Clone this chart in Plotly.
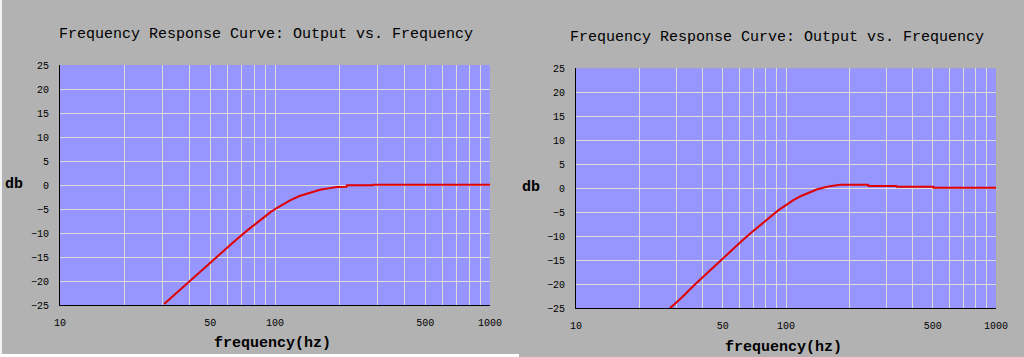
import plotly.graph_objects as go

# ---- data ----
freq_left = [30.5, 34, 38.8, 44, 49.9, 57, 65.2, 74.6, 81, 88.3, 95, 101.9, 109, 117.5,
             130, 145.5, 162, 180, 194, 215, 216, 285, 287, 1000]
db_left = [-24.8, -22.9, -20.6, -18.4, -16.2, -13.9, -11.6, -9.4, -8.1, -6.8, -5.7, -4.8,
           -4.0, -3.2, -2.3, -1.55, -1.0, -0.65, -0.4, -0.35, -0.07, -0.07, 0.06, 0.06]

freq_right = [28, 32, 36.5, 42.5, 49, 55, 61.5, 68, 76, 84, 91.8, 100, 108, 118, 130,
              140, 150, 162, 181, 246, 247, 336, 337, 503, 505, 1000]
db_right = [-25.0, -22.7, -20.2, -17.5, -14.9, -12.9, -11.0, -9.3, -7.5, -5.9, -4.6, -3.5,
            -2.5, -1.6, -0.75, -0.25, 0.1, 0.45, 0.75, 0.75, 0.5, 0.5, 0.3, 0.3, 0.1, 0.1]

grid_freqs = [10, 20, 30, 40, 50, 60, 70, 80, 90,
              100, 200, 300, 400, 500, 600, 700, 800, 900, 1000]
freq_labels = ["10", "", "", "", "50", "", "", "", "",
               "100", "", "", "", "500", "", "", "", "", "1000"]
db_ticks = [-25, -20, -15, -10, -5, 0, 5, 10, 15, 20, 25]

title_text = "Frequency Response Curve: Output vs. Frequency"
x_title = "<b>frequency(hz)</b>"
y_title = "<b>db</b>"

W, H = 1024, 357
GRAY = "#b2b2b2"
PLOT_BG = "#9696fe"
GRID = "#dcdcdc"
LINE = "#e00000"
FONT = "Liberation Mono, DejaVu Sans Mono, monospace"


def px(x):
    return x / W


def py(y):
    return 1 - y / H


fig = go.Figure()
fig.add_trace(go.Scatter(x=freq_left, y=db_left, mode="lines",
                         line=dict(color=LINE, width=2), xaxis="x", yaxis="y",
                         showlegend=False, hoverinfo="skip"))
fig.add_trace(go.Scatter(x=freq_right, y=db_right, mode="lines",
                         line=dict(color=LINE, width=2), xaxis="x2", yaxis="y2",
                         showlegend=False, hoverinfo="skip"))

panels = [
    # (x0, x1, ytop, ybottom, title cx, title cy, ylabel cx, ylabel cy, xlabel cx, xlabel cy)
    (60, 490, 65, 305, 266, 34.5, 13.5, 184.5, 272, 343),
    (576, 996, 68.3, 308.3, 777, 37.5, 530.5, 187.5, 783, 347),
]

axis_common_x = dict(type="log", range=[1, 3], tickmode="array", tickvals=grid_freqs,
                     ticktext=freq_labels, showgrid=True, gridcolor=GRID, gridwidth=1,
                     showline=True, linecolor="black", linewidth=1, zeroline=False,
                     ticks="outside", ticklen=8, tickcolor="rgba(0,0,0,0)", automargin=False,
                     tickfont=dict(family=FONT, size=10, color="black"), fixedrange=True)
axis_common_y = dict(range=[-25, 25], tickmode="array", tickvals=db_ticks,
                     showgrid=True, gridcolor=GRID, gridwidth=1,
                     showline=True, linecolor="black", linewidth=1, zeroline=False,
                     ticks="outside", ticklen=8, tickcolor="rgba(0,0,0,0)", automargin=False,
                     tickfont=dict(family=FONT, size=10, color="black"), fixedrange=True)

layout = dict(template="none", width=W, height=H, autosize=False,
              margin=dict(l=0, r=0, t=0, b=0, pad=0),
              paper_bgcolor=GRAY, plot_bgcolor=PLOT_BG, showlegend=False)

annotations = []
for i, (x0, x1, yt, yb, tx, ty, ylx, yly, xlx, xly) in enumerate(panels):
    sfx = "" if i == 0 else "2"
    layout["xaxis" + sfx] = dict(axis_common_x, domain=[px(x0), px(x1)],
                                 anchor="y" + sfx)
    layout["yaxis" + sfx] = dict(axis_common_y, domain=[py(yb), py(yt)],
                                 anchor="x" + sfx)
    annotations.append(dict(text=title_text, x=px(tx), y=py(ty), xref="paper", yref="paper",
                            showarrow=False, xanchor="center", yanchor="middle",
                            font=dict(family=FONT, size=15, color="black")))
    annotations.append(dict(text=y_title, x=px(ylx), y=py(yly), xref="paper", yref="paper",
                            showarrow=False, xanchor="center", yanchor="middle",
                            font=dict(family=FONT, size=15, color="black")))
    annotations.append(dict(text=x_title, x=px(xlx), y=py(xly), xref="paper", yref="paper",
                            showarrow=False, xanchor="center", yanchor="middle",
                            font=dict(family=FONT, size=15, color="black")))

layout["annotations"] = annotations
layout["shapes"] = [
    dict(type="rect", xref="paper", yref="paper", x0=0, x1=px(2), y0=0, y1=1,
         fillcolor="#f2f2f2", line=dict(width=0), layer="above"),
    dict(type="rect", xref="paper", yref="paper", x0=0, x1=px(519), y0=0, y1=py(354),
         fillcolor="white", line=dict(width=0), layer="above"),
]

fig.update_layout(**layout)
fig.write_html("out.html", config={"displayModeBar": False},
               post_script="document.body.style.margin='0';document.body.style.overflow='hidden';")
